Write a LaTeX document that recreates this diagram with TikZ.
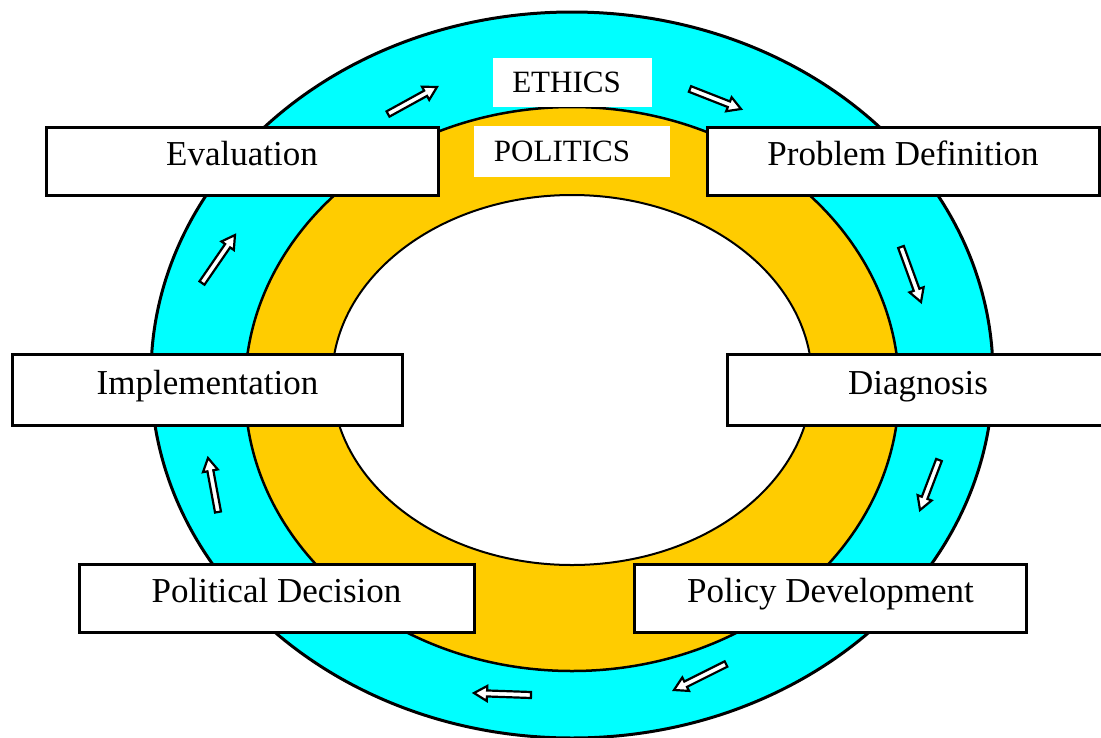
\documentclass[tikz,border=0pt]{standalone}
\usepackage{fontspec}
\setmainfont{Liberation Serif}
\usetikzlibrary{calc}
\definecolor{ringcyan}{HTML}{00FFFF}
\definecolor{ringgold}{HTML}{FFCC00}
\tikzset{
  ring/.style={draw=black, line width=2.5pt},
  stage/.style={draw=black, line width=3pt, fill=white, inner sep=0pt,
    minimum width=392pt, minimum height=68pt,
    text height=20pt, text depth=12pt,
    font=\fontsize{35}{40}\selectfont},
  banner/.style={fill=white, inner sep=0pt, font=\fontsize{31}{36}\selectfont},
  flowarrow/.style={draw=black, line width=2.2pt, fill=white, line join=miter},
}
% small white block arrow running from point #1 to point #2
\newcommand\cyclearrow[2]{%
  \path let \p1=($(#2)-(#1)$), \n1={atan2(\y1,\x1)}, \n2={veclen(\x1,\y1)} in
    [shift={(#1)}, rotate=\n1]
    [flowarrow] (0pt,-3pt) -- (\n2-13pt,-3pt) -- (\n2-13pt,-7.5pt) -- (\n2,0pt)
      -- (\n2-13pt,7.5pt) -- (\n2-13pt,3pt) -- (0pt,3pt) -- cycle;%
}
\begin{document}
\begin{tikzpicture}[x=1pt, y=-1pt]
  \useasboundingbox (0,0) rectangle (1101,737);
  \clip (0,0) rectangle (1101,737);
  \fill[white] (0,0) rectangle (1101,737);

  % the two rings
  \draw[ring, line width=3pt, fill=ringcyan] (572,375) ellipse [x radius=421, y radius=363];
  \draw[ring, fill=ringgold] (572,389) ellipse [x radius=327, y radius=282];
  \draw[ring, line width=2pt, fill=white] (572,380) ellipse [x radius=240, y radius=185];

  % ring labels
  \node[banner, minimum width=159pt, minimum height=49pt] (ethics) at (572.5,82.5) {\hspace*{-12pt}ETHICS};
  \node[banner, minimum width=196pt, minimum height=51pt] (politics) at (572,151.5) {\hspace*{-20pt}POLITICS};

  % direction of the cycle
  \coordinate (a1s) at (388,114); \coordinate (a1e) at (437,87);
  \coordinate (a2s) at (690,89);  \coordinate (a2e) at (741,109);
  \coordinate (a3s) at (901,247); \coordinate (a3e) at (921,302);
  \coordinate (a4s) at (939,460); \coordinate (a4e) at (920,510);
  \coordinate (a5s) at (726,664); \coordinate (a5e) at (674,690);
  \coordinate (a6s) at (531,695); \coordinate (a6e) at (474,693);
  \coordinate (a7s) at (218,512); \coordinate (a7e) at (208,458);
  \coordinate (a8s) at (202,283); \coordinate (a8e) at (235,235);
  \cyclearrow{a1s}{a1e}
  \cyclearrow{a2s}{a2e}
  \cyclearrow{a3s}{a3e}
  \cyclearrow{a4s}{a4e}
  \cyclearrow{a5s}{a5e}
  \cyclearrow{a6s}{a6e}
  \cyclearrow{a7s}{a7e}
  \cyclearrow{a8s}{a8e}

  % stages of the cycle
  \node[stage] (evaluation) at (242,161.5) {Evaluation};
  \node[stage] (problem) at (903,161) {Problem Definition};
  \node[stage, minimum width=390pt, minimum height=71pt] (implementation) at (207.5,390) {Implementation};
  \node[stage, minimum height=71pt, text width=392pt, align=left] (diagnosis) at (923,390) {\hspace*{121pt}Diagnosis};
  \node[stage, minimum width=395pt] (decision) at (276.5,598.5) {Political Decision};
  \node[stage] (development) at (830.5,598.5) {Policy Development};
\end{tikzpicture}
\end{document}
